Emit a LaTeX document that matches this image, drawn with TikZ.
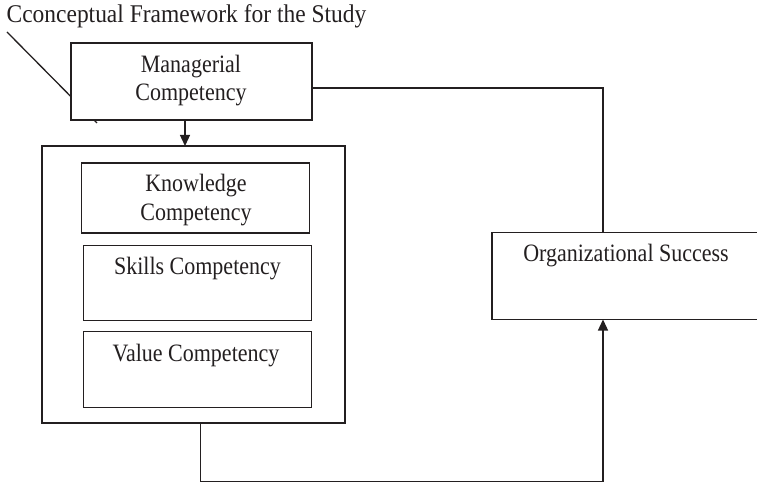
\documentclass[tikz,border=0pt]{standalone}
\usepackage{fontspec}
\setmainfont{Liberation Serif}
\newfontfamily\boxfont[FakeStretch=0.88]{Liberation Serif}
\newfontfamily\titlefont[FakeStretch=0.92]{Liberation Serif}
\usetikzlibrary{arrows.meta}
\definecolor{ink}{HTML}{231F20}
\begin{document}
\begin{tikzpicture}[x=1bp,y=-1bp,
  line width=1.3bp,
  box/.style={draw=ink, fill=white, line width=1.3bp, inner sep=0pt, outer sep=0pt},
  txt/.style={inner sep=0pt, anchor=base, text=ink, font=\boxfont\fontsize{25bp}{28bp}\selectfont},
  conn/.style={draw=ink, line width=1.3bp},
  arr/.style={conn, -{Triangle[length=11bp,width=10bp]}}
]
\useasboundingbox (0,0) rectangle (757,484);
% title
\node[inner sep=0pt, anchor=base west, text=ink, font=\titlefont\fontsize{25.5bp}{28bp}\selectfont] (title) at (6,23) {Cconceptual Framework for the Study};
% diagonal leader line behind box
\coordinate (d1) at (7,32);
\coordinate (d2) at (97,123);
\draw[conn] (d1) -- (d2);
% managerial competency
\node[box, minimum width=241bp, minimum height=77bp] (mc) at (191.5,81.5) {};
\node[txt] (mct1) at (191,72.7) {Managerial};
\node[txt] (mct2) at (191,100.5) {Competency};
% outer box
\node[box, minimum width=303bp, minimum height=277bp] (outer) at (193.5,284.5) {};
% knowledge
\node[box, minimum width=227.5bp, minimum height=70bp] (kc) at (195.5,198) {};
\node[txt] (kct1) at (196,191.5) {Knowledge};
\node[txt] (kct2) at (196,220.5) {Competency};
% skills
\node[box, minimum width=228.5bp, minimum height=74.5bp] (sc) at (197.5,283) {};
\node[txt] (sct) at (197.5,275) {Skills Competency};
% value
\node[box, minimum width=228.5bp, minimum height=75.5bp] (vc) at (197.5,369.5) {};
\node[txt] (vct) at (196,361) {Value Competency};
% organizational success (right side cut off by the page)
\begin{scope}
\clip (0,0) rectangle (757,484);
\node[box, minimum width=270bp, minimum height=87bp] (os) at (627,276) {};
\end{scope}
\node[txt] (ost) at (626,262) {Organizational Success};
% connectors
\draw[arr] (mc.south -| 185,0) -- (outer.north -| 185,0);
\draw[conn] (mc.east |- 0,88) -| (os.north -| 603,0);
\coordinate (b1) at (200.7,481.5);
\draw[arr] (outer.south -| 200.7,0) -- (b1) -| (os.south -| 603,0);
\end{tikzpicture}
\end{document}
